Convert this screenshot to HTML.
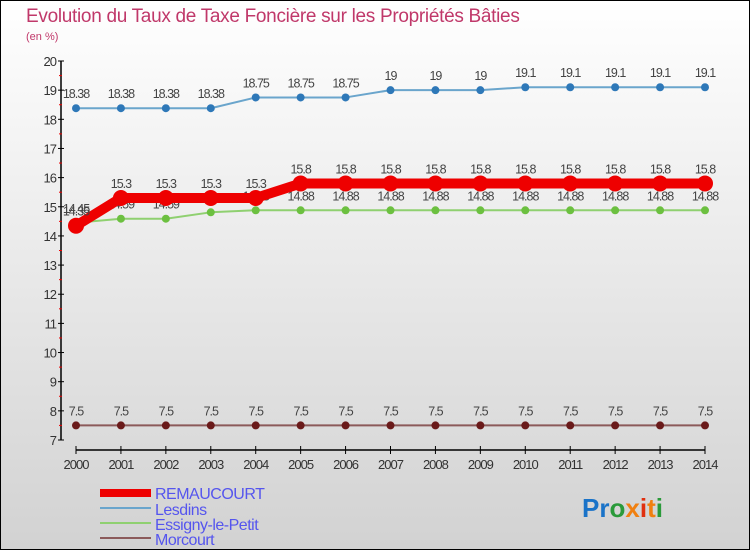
<!DOCTYPE html>
<html><head><meta charset="utf-8"><style>
html,body{margin:0;padding:0}
body{width:750px;height:550px;overflow:hidden;font-family:"Liberation Sans",sans-serif}
</style></head><body>
<svg id="chart" width="750" height="550" xmlns="http://www.w3.org/2000/svg">
<defs><linearGradient id="bg" x1="0" y1="0" x2="0" y2="1"><stop offset="0" stop-color="#ffffff"/><stop offset="1" stop-color="#d2d2d2"/></linearGradient></defs>
<rect x="0.5" y="0.5" width="749" height="549" fill="url(#bg)" stroke="#000"/>
<text x="26" y="22" font-size="19" font-weight="300" fill="#c0386a" letter-spacing="-0.3">Evolution du Taux de Taxe Foncière sur les Propriétés Bâties</text>
<text x="26" y="40" font-size="11" fill="#c0386a">(en %)</text>
<g id="axes"></g><g id="series"></g>
<g>
<rect x="100" y="489" width="51" height="8" fill="#ee0000"/>
<text x="155" y="499" font-size="16" fill="#5555ee" letter-spacing="-0.5">REMAUCOURT</text>
<rect x="100" y="507" width="51" height="2" fill="#6aa5cc"/>
<text x="155" y="515" font-size="16" fill="#5555ee" letter-spacing="-0.5">Lesdins</text>
<rect x="100" y="522" width="51" height="2" fill="#8fd070"/>
<text x="155" y="530" font-size="16" fill="#5555ee" letter-spacing="-0.5">Essigny-le-Petit</text>
<rect x="100" y="537" width="51" height="2" fill="#8b5a5a"/>
<text x="155" y="545" font-size="16" fill="#5555ee" letter-spacing="-0.5">Morcourt</text>
</g>
<text x="582" y="517" font-size="26" font-weight="bold"><tspan fill="#1a73c8">Pr</tspan><tspan fill="#2a9a3a">o</tspan><tspan fill="#f08010">x</tspan><tspan fill="#e03010">i</tspan><tspan fill="#f08010">t</tspan><tspan fill="#2a9a3a">i</tspan></text>
</svg>
<script>
const years=[2000,2001,2002,2003,2004,2005,2006,2007,2008,2009,2010,2011,2012,2013,2014];
const yTicks=[7,8,9,10,11,12,13,14,15,16,17,18,19,20];
const remaucourt=[14.35,15.3,15.3,15.3,15.3,15.8,15.8,15.8,15.8,15.8,15.8,15.8,15.8,15.8,15.8];
const lesdins=[18.38,18.38,18.38,18.38,18.75,18.75,18.75,19,19,19,19.1,19.1,19.1,19.1,19.1];
const essigny=[14.45,14.59,14.59,14.81,14.88,14.88,14.88,14.88,14.88,14.88,14.88,14.88,14.88,14.88,14.88];
const morcourt=[7.5,7.5,7.5,7.5,7.5,7.5,7.5,7.5,7.5,7.5,7.5,7.5,7.5,7.5,7.5];
const NS="http://www.w3.org/2000/svg";
const x=i=>76+i*(705-76)/(years.length-1);
const y=v=>61+(20-v)*(440-61)/13;
function mk(t,a,p){const e=document.createElementNS(NS,t);for(const k in a)e.setAttribute(k,a[k]);p.appendChild(e);return e;}
const ax=document.getElementById('axes');
let l=mk('line',{x1:61,y1:y(20),x2:61,y2:y(7),stroke:'#000','stroke-width':1.5},ax);


yTicks.forEach(v=>{
 const t=mk('line',{x1:58,y1:y(v),x2:64,y2:y(v),stroke:'#000'},ax);
 
 
 if(v<20){const m=mk('line',{x1:59,y1:y(v+0.5),x2:62,y2:y(v+0.5),stroke:'#e00'},ax);
 
 }
 const tx=mk('text',{x:56,y:y(v)+5,'font-size':13,'text-anchor':'end',fill:'#333','letter-spacing':'-1'},ax);
 tx.textContent=v;
 
 
});
l=mk('line',{x1:76,y1:450,x2:705,y2:450,stroke:'#000','stroke-width':1.5},ax);


years.forEach((yr,i)=>{
 const t=mk('line',{x1:x(i),y1:446,x2:x(i),y2:454,stroke:'#000'},ax);
 
 
 const tx=mk('text',{x:x(i),y:469,'font-size':13,'text-anchor':'middle',fill:'#333','letter-spacing':'-1'},ax);
 tx.textContent=yr;
 
 
});
const sg=document.getElementById('series');
function series(name,data,color,w,r,dot){
 const g=mk('g',{},sg);
 
 
 const p=mk('polyline',{points:data.map((v,i)=>x(i)+','+y(v)).join(' '),fill:'none',stroke:color,'stroke-width':w,'stroke-linejoin':'round'},g);
 
 
 data.forEach((v,i)=>{
  const c=mk('circle',{cx:x(i),cy:y(v),r:r,fill:dot},g);
  
  
  const t=mk('text',{x:x(i),y:y(v)-10,'font-size':12.5,'text-anchor':'middle',fill:'#444','letter-spacing':'-1'},g);
  t.textContent=v;
  
  
 });
}
series('morcourt',morcourt,'#8b5a5a',2,4,'#6a1a1a');
series('lesdins',lesdins,'#6aa5cc',2,4,'#2e78b8');
series('essigny',essigny,'#8fd070',2,4,'#6cc040');
series('remaucourt',remaucourt,'#ee0000',10,8,'#ee0000');
</script>
</body></html>
